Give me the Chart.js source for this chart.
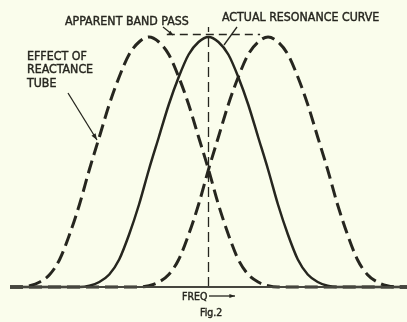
<!DOCTYPE html>
<html>
<head>
<meta charset="utf-8">
<script src="https://cdn.jsdelivr.net/npm/chart.js@4"></script>
<style>
  html, body { margin: 0; padding: 0; background: #fafdec; }
  #wrap { width: 407px; height: 322px; }
</style>
</head>
<body>
<div id="wrap"><canvas id="fig2" width="407" height="322"></canvas></div>
<script>
// Frequency steps along the baseline (arbitrary units, resonance at 20)
const freq = [0,1,2,3,4,5,6,7,8,9,10,11,12,13,14,15,16,17,18,19,20,
              21,22,23,24,25,26,27,28,29,30,31,32,33,34,35,36,37,38,39,40];

// Actual resonance curve (relative response)
const resonance = [0,0,0,0,0,0,0,0,0.005,0.02,0.05,0.11,0.21,0.33,0.47,0.60,0.73,0.84,0.93,0.98,1.00,
                   0.98,0.93,0.84,0.73,0.60,0.47,0.33,0.21,0.11,0.05,0.02,0.005,0,0,0,0,0,0,0,0];

// Curve pulled low / high by the reactance tube
const shiftedLow = [0,0,0.005,0.02,0.05,0.11,0.21,0.33,0.47,0.60,0.73,0.84,0.93,0.98,1.00,
                    0.98,0.93,0.84,0.73,0.60,0.47,0.33,0.21,0.11,0.05,0.02,0.005,
                    0,0,0,0,0,0,0,0,0,0,0,0,0,0];
const shiftedHigh = [0,0,0,0,0,0,0,0,0,0,0,0,0,0,0.005,
                     0.02,0.05,0.11,0.21,0.33,0.47,0.60,0.73,0.84,0.93,0.98,1.00,
                     0.98,0.93,0.84,0.73,0.60,0.47,0.33,0.21,0.11,0.05,0.02,0.005,0,0];

// Apparent band pass: flat top between the two shifted peaks
const bandEdges = [15.8, 25.2];
const bandLevel = [1.01, 1.01];

// Centre frequency marker
const centreFreq = [20, 20];
const centreLevel = [0, 1.04];

const ink = '#26261f';
const toPoints = (xs, ys) => xs.map((x, i) => ({ x: x, y: ys[i] }));

const curve = (data, dashed) => ({
  data: data,
  borderColor: ink,
  borderWidth: dashed ? 3 : 2.5,
  borderDash: dashed ? [13, 6] : [],
  pointRadius: 0,
  cubicInterpolationMode: 'monotone',
  fill: false
});

function arrow(ctx, x1, y1, x2, y2, head) {
  ctx.beginPath();
  ctx.moveTo(x1, y1);
  ctx.lineTo(x2, y2);
  ctx.stroke();
  if (!head) return;
  const a = Math.atan2(y2 - y1, x2 - x1);
  ctx.beginPath();
  ctx.moveTo(x2, y2);
  ctx.lineTo(x2 - head * Math.cos(a - 0.35), y2 - head * Math.sin(a - 0.35));
  ctx.lineTo(x2 - head * Math.cos(a + 0.35), y2 - head * Math.sin(a + 0.35));
  ctx.closePath();
  ctx.fill();
}

// inked lettering: fill plus a hairline stroke for weight
function letter(ctx, text, x, y) {
  ctx.fillText(text, x, y);
  ctx.strokeText(text, x, y);
}

// Baseline, labels and leader lines
const figureLabels = {
  id: 'figureLabels',
  afterDatasetsDraw(chart) {
    const { ctx, scales } = chart;
    const x = scales.x, y = scales.y;
    ctx.save();

    // frequency axis
    ctx.strokeStyle = '#46463f';
    ctx.lineWidth = 2;
    ctx.beginPath();
    ctx.moveTo(x.getPixelForValue(0), y.getPixelForValue(0));
    ctx.lineTo(x.getPixelForValue(40), y.getPixelForValue(0));
    ctx.stroke();

    ctx.fillStyle = ink;
    ctx.strokeStyle = ink;
    ctx.lineWidth = 0.4;
    ctx.textBaseline = 'middle';
    ctx.font = '12.3px "DejaVu Sans Condensed", "DejaVu Sans", sans-serif';
    letter(ctx, 'APPARENT BAND PASS', 65, 21.5);
    letter(ctx, 'ACTUAL RESONANCE CURVE', 222, 17.5);
    letter(ctx, 'EFFECT OF', 27, 56.5);
    letter(ctx, 'REACTANCE', 27, 70);
    letter(ctx, 'TUBE', 27, 84);
    ctx.font = '10.5px "DejaVu Sans Condensed", "DejaVu Sans", sans-serif';
    letter(ctx, 'FREQ', 182, 297.5);
    letter(ctx, 'Fig.2', 200, 313);

    ctx.lineWidth = 1.3;
    arrow(ctx, 163, 27, 173, 35, 5);
    arrow(ctx, 237, 27, 224, 45, 0);
    arrow(ctx, 68, 93, 97, 140, 7);
    arrow(ctx, 209, 296, 235, 296, 6);
    ctx.restore();
  }
};

new Chart(document.getElementById('fig2'), {
  type: 'line',
  data: {
    datasets: [
      curve(toPoints(freq, shiftedLow), true),
      curve(toPoints(freq, resonance), false),
      curve(toPoints(freq, shiftedHigh), true),
      {
        data: toPoints(bandEdges, bandLevel),
        borderColor: ink, borderWidth: 1.3, borderDash: [8, 5],
        pointRadius: 0, fill: false
      },
      {
        data: toPoints(centreFreq, centreLevel),
        borderColor: ink, borderWidth: 1.3, borderDash: [10, 5],
        pointRadius: 0, fill: false
      }
    ]
  },
  options: {
    responsive: false,
    animation: false,
    clip: false,
    layout: { padding: { left: 10, right: 0, top: 22, bottom: 35 } },
    scales: {
      x: { type: 'linear', min: 0, max: 40, display: false },
      y: { min: 0, max: 1.06, display: false }
    },
    plugins: {
      legend: { display: false },
      tooltip: { enabled: false }
    }
  },
  plugins: [figureLabels]
});
</script>
</body>
</html>
